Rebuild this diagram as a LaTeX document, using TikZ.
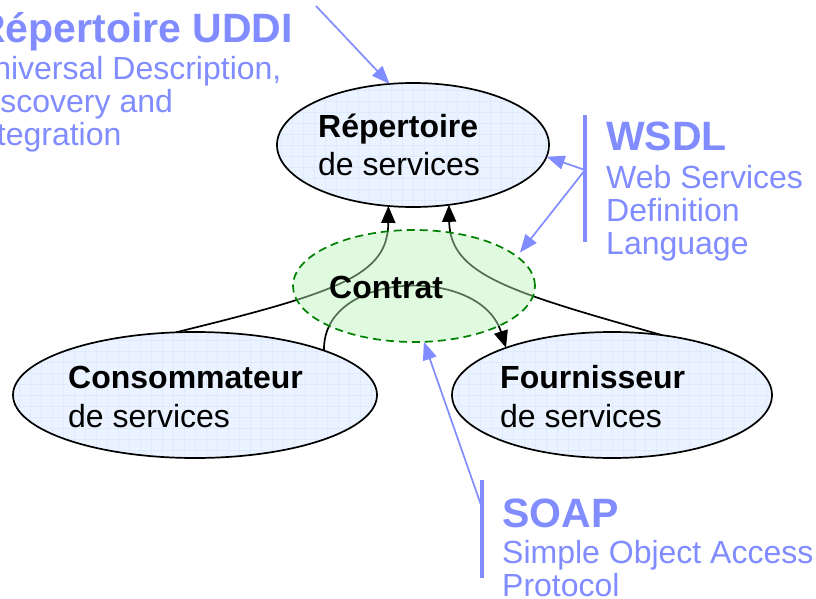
\documentclass[tikz,border=0pt]{standalone}
\usepackage{fontspec}
\setmainfont{Liberation Sans}
\usetikzlibrary{arrows.meta}
\usetikzlibrary{shapes.geometric}

\pgfdeclarelayer{bg}
\pgfsetlayers{bg,main}

\definecolor{annot}{RGB}{128,140,255}
\definecolor{cellfill}{RGB}{234,243,255}
\definecolor{cellgrid}{RGB}{222,235,253}
\definecolor{pactline}{RGB}{0,128,0}
\definecolor{pactfill}{RGB}{185,245,185}

\tikzset{
  role/.style={ellipse, draw=black, line width=1.7pt, fill=cellfill, inner sep=0pt, outer sep=0pt,
    path picture={\draw[cellgrid, line width=0.5pt, step=11pt]
      (path picture bounding box.south west) grid (path picture bounding box.north east);}},
  pact/.style={ellipse, draw=pactline, line width=1.7pt, dash pattern=on 8pt off 5pt,
    fill=pactfill, fill opacity=0.45, inner sep=0pt, outer sep=0pt},
  flow/.style={line width=1.7pt, -{Triangle[length=17pt,width=14pt]}},
  hint/.style={annot, line width=1.7pt, -{Triangle[length=18pt,width=14pt]}},
  bar/.style={annot, line width=3.5pt},
  heavy/.style={font=\fontsize{32}{37}\selectfont\bfseries, anchor=base west, inner sep=0pt},
  plain/.style={font=\fontsize{32}{37}\selectfont, anchor=base west, inner sep=0pt},
  tagtitle/.style={font=\fontsize{41}{45}\selectfont\bfseries, text=annot, anchor=base west, inner sep=0pt},
  tagline/.style={font=\fontsize{32}{37}\selectfont, text=annot, anchor=base west, inner sep=0pt}
}

\begin{document}
\begin{tikzpicture}[x=1pt,y=-1pt]
\useasboundingbox (0,0) rectangle (816,599);

% acteurs
\node[role, minimum width=272pt, minimum height=124pt] (rep) at (413,145) {};
\node[role, minimum width=364pt, minimum height=126pt] (cons) at (195,395) {};
\node[role, minimum width=320pt, minimum height=126pt] (four) at (612,395) {};
\node[pact, minimum width=242pt, minimum height=112pt] (pact) at (414,286) {};

\node[heavy] (reptitle) at (318,138) {Répertoire};
\node[plain] (repsub) at (318,175) {de services};
\node[heavy] (constitle) at (68,388) {Consommateur};
\node[plain] (conssub) at (68,427) {de services};
\node[heavy] (fourtitle) at (500,388) {Fournisseur};
\node[plain] (foursub) at (500,427) {de services};
\node[heavy] (pacttitle) at (329,298) {Contrat};

% echanges
\begin{pgfonlayer}{bg}
\draw[flow] (cons.107) .. controls (340,292) and (388,275) .. (rep.248);
\draw[flow] (four.50) .. controls (510,292) and (450,275) .. (rep.301);
\draw[flow] (cons.19) .. controls (322,270) and (480,265) .. (four.156);
\end{pgfonlayer}

% UDDI
\node[tagtitle] (udditag) at (-24,43) {Répertoire UDDI};
\foreach \txt [count=\i] in {{Universal Description,}, Discovery and, Integration}
  \node[tagline] (uddi\i) at (-30,47+33*\i) {\txt};
\coordinate (uddifoot) at (316,6);
\draw[hint] (uddifoot) -- (rep.111);

% WSDL
\node[tagtitle] (wsdltag) at (606,150) {WSDL};
\foreach \txt [count=\i] in {Web Services, Definition, Language}
  \node[tagline] (wsdl\i) at (606,155+33*\i) {\txt};
\coordinate (wsdltop) at (585,115);
\coordinate (wsdlbot) at (585,242);
\coordinate (wsdlfoot) at (585,170);
\draw[bar] (wsdltop) -- (wsdlbot);
\draw[hint] (wsdlfoot) -- (rep.355);
\draw[hint, shorten >=5pt] (wsdlfoot) -- (pact.16);

% SOAP
\node[tagtitle] (soaptag) at (502,527) {SOAP};
\foreach \txt [count=\i] in {Simple Object Access, Protocol}
  \node[tagline] (soap\i) at (502,530+33*\i) {\txt};
\coordinate (soaptop) at (482,480);
\coordinate (soapbot) at (482,578);
\coordinate (soapfoot) at (481,505);
\draw[bar] (soaptop) -- (soapbot);
\draw[hint] (soapfoot) -- (pact.280);

\end{tikzpicture}
\end{document}
